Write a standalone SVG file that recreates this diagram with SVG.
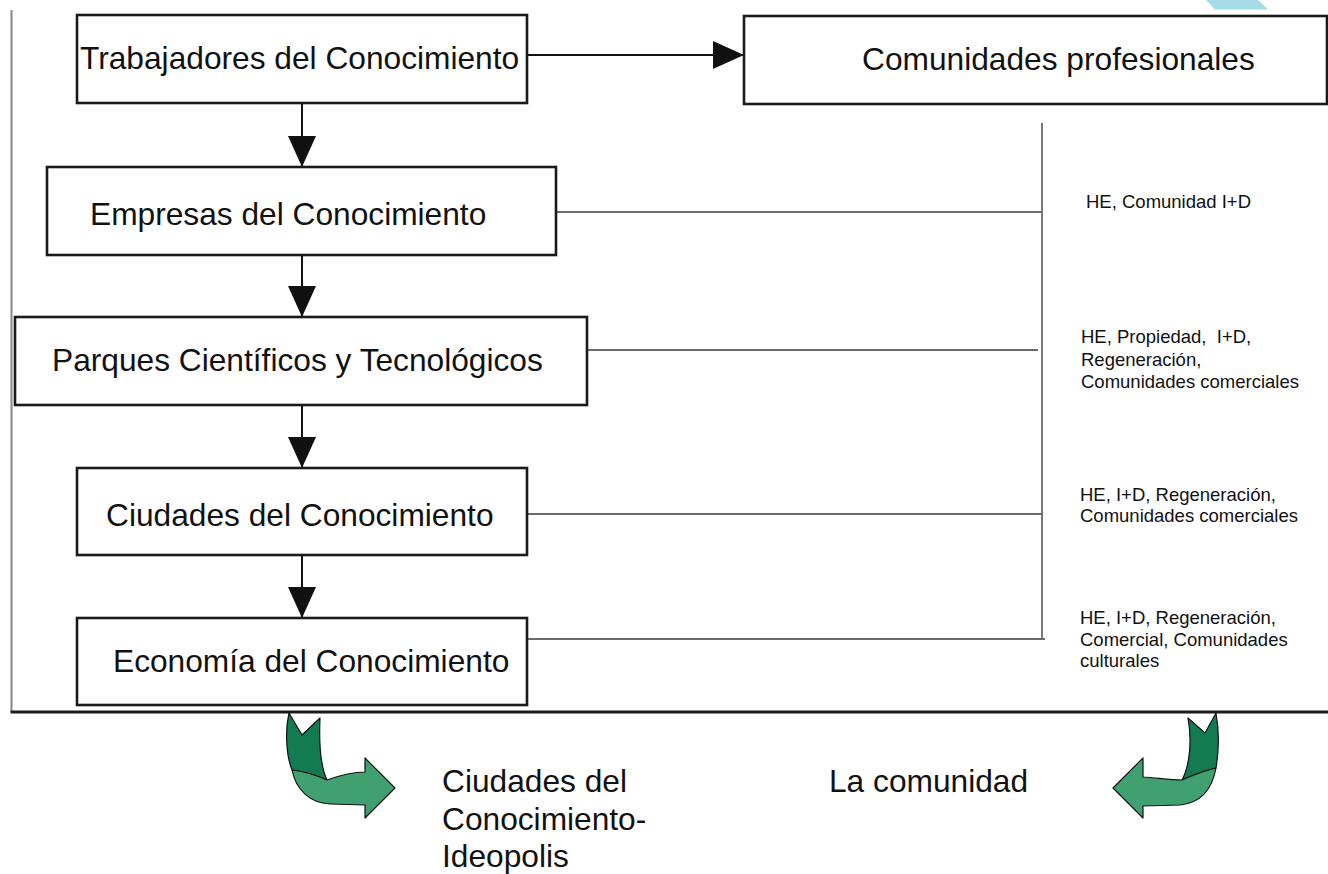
<svg xmlns="http://www.w3.org/2000/svg" width="1328" height="874" viewBox="0 0 1328 874">
<style>
.box{fill:#ffffff;stroke:#1a1a1a;stroke-width:2.6}
.big{font-family:"Liberation Sans",Arial,sans-serif;font-size:31.7px;fill:#111}
.small{font-family:"Liberation Sans",Arial,sans-serif;font-size:18.5px;fill:#111}
.conn{stroke:#111;stroke-width:2;fill:none}
.side{stroke:#6a6a6a;stroke-width:1.8;fill:none}
.dark{fill:#147a52;stroke:#111;stroke-width:1.2;stroke-linejoin:round}
.light{fill:#40a070;stroke:#111;stroke-width:1.2;stroke-linejoin:round}
</style>
<defs>
<marker id="ah" viewBox="0 0 31 28" refX="31" refY="14" markerWidth="31" markerHeight="28" markerUnits="userSpaceOnUse" orient="auto">
<path d="M0,0 L31,14 L0,28 Z" fill="#111"/>
</marker>
</defs>
<rect width="1328" height="874" fill="#ffffff"/>
<polygon points="1206,0 1258,0 1268,9.5 1215,9.5" fill="#a6dce8"/>
<g id="frame">
<line x1="11.5" y1="10" x2="11.5" y2="712" stroke="#888" stroke-width="2"/>
<line x1="10.5" y1="712" x2="1328" y2="712" stroke="#1a1a1a" stroke-width="2.8"/>
</g>
<g id="connectors">
<line class="conn" x1="527" y1="55" x2="744" y2="55" marker-end="url(#ah)"/>
<line class="conn" x1="302" y1="103" x2="302" y2="167" marker-end="url(#ah)"/>
<line class="conn" x1="302" y1="255" x2="302" y2="317" marker-end="url(#ah)"/>
<line class="conn" x1="302" y1="405" x2="302" y2="468" marker-end="url(#ah)"/>
<line class="conn" x1="302" y1="555" x2="302" y2="618" marker-end="url(#ah)"/>
<line class="side" x1="1042" y1="123" x2="1042" y2="640"/>
<line class="side" x1="556" y1="212" x2="1042" y2="212"/>
<line class="side" x1="587" y1="350" x2="1038" y2="350"/>
<line class="side" x1="527" y1="514" x2="1042" y2="514"/>
<line class="side" x1="527" y1="639" x2="1045" y2="639"/>
</g>
<g id="n-trabajadores">
<rect class="box" x="77" y="15" width="450" height="88"/>
<text class="big" x="80" y="69">Trabajadores del Conocimiento</text>
</g>
<g id="n-comunidades">
<rect class="box" x="744" y="16" width="583" height="88"/>
<text class="big" x="862" y="70">Comunidades profesionales</text>
</g>
<g id="n-empresas">
<rect class="box" x="47" y="167" width="509" height="88"/>
<text class="big" x="90" y="225">Empresas del Conocimiento</text>
</g>
<g id="n-parques">
<rect class="box" x="15" y="317" width="572" height="88"/>
<text class="big" x="52" y="371">Parques Científicos y Tecnológicos</text>
</g>
<g id="n-ciudades">
<rect class="box" x="77" y="468" width="450" height="87"/>
<text class="big" x="106" y="526">Ciudades del Conocimiento</text>
</g>
<g id="n-economia">
<rect class="box" x="77" y="618" width="450" height="87"/>
<text class="big" x="113" y="672">Economía del Conocimiento</text>
</g>
<g id="labels-right">
<text class="small" x="1086" y="208">HE, Comunidad I+D</text>
<text class="small" x="1081" y="343" xml:space="preserve">HE, Propiedad,  I+D,</text>
<text class="small" x="1081" y="365.5">Regeneración,</text>
<text class="small" x="1081" y="388">Comunidades comerciales</text>
<text class="small" x="1080" y="500.5">HE, I+D, Regeneración,</text>
<text class="small" x="1080" y="522">Comunidades comerciales</text>
<text class="small" x="1080" y="624">HE, I+D, Regeneración,</text>
<text class="small" x="1080" y="645.5">Comercial, Comunidades</text>
<text class="small" x="1080" y="667">culturales</text>
</g>
<g id="arrow-left">
<path class="dark" d="M289,713 L302,735 L320,718 C319,740 320,765 327,780 Q309,772 292,770 C286,755 285,730 289,713 Z"/>
<path class="light" d="M292,770 C296,790 310,803 330,804 L365,805 L365,818 L395,788 L365,758 L365,772 C352,772 338,776 327,780 Q309,772 292,770 Z"/>
</g>
<g id="arrow-right">
<path class="dark" d="M1216,713 L1205,733 L1188,718 C1192,740 1190,765 1182,780 Q1200,772 1216,768 C1219,750 1219,730 1216,713 Z"/>
<path class="light" d="M1216,768 C1212,790 1200,803 1180,805 L1143,806 L1143,818 L1113,788 L1143,758 L1143,777 C1158,778 1170,780 1182,780 Q1200,772 1216,768 Z"/>
</g>
<g id="labels-bottom">
<text class="big" x="442" y="792">Ciudades del</text>
<text class="big" x="442" y="829.5">Conocimiento-</text>
<text class="big" x="442" y="866.5">Ideopolis</text>
<text class="big" x="829" y="792">La comunidad</text>
</g>
</svg>
